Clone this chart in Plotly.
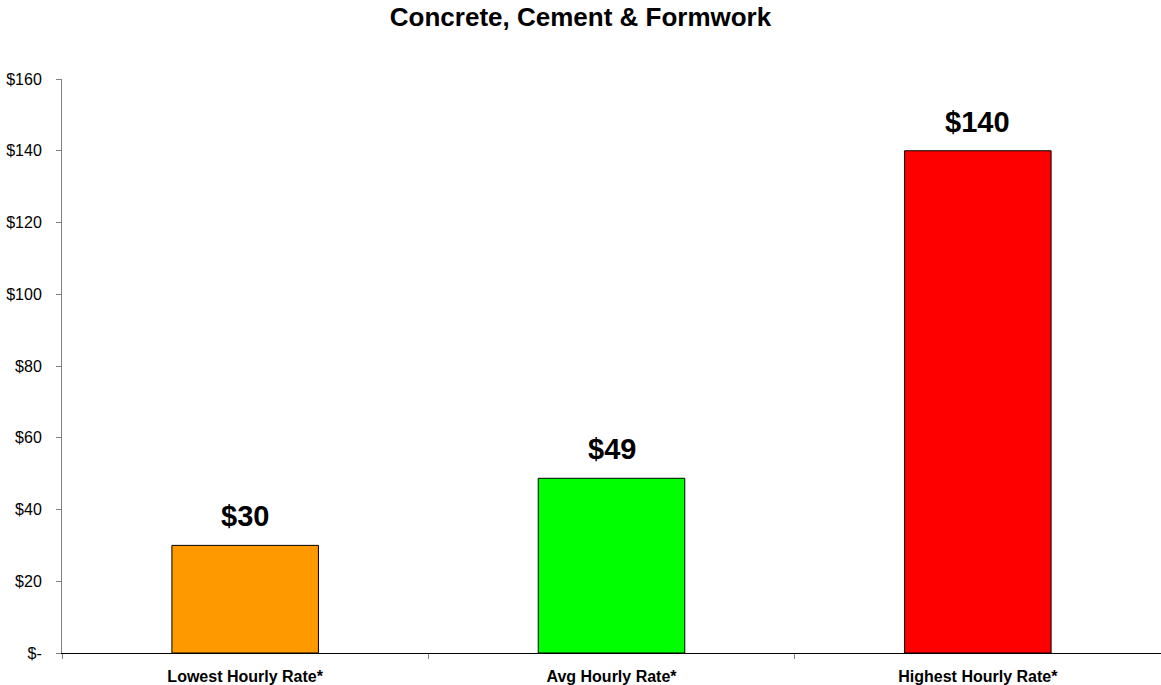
import plotly.graph_objects as go

categories = ["Lowest Hourly Rate*", "Avg Hourly Rate*", "Highest Hourly Rate*"]
values = [30, 48.7, 140]
value_labels = ["$30", "$49", "$140"]
bar_colors = ["#FF9900", "#00FF00", "#FF0000"]
y_tickvals = [0, 20, 40, 60, 80, 100, 120, 140, 160]
y_ticktext = ["$-", "$20", "$40", "$60", "$80", "$100", "$120", "$140", "$160"]

FONT = "Arial, Liberation Sans, sans-serif"

fig = go.Figure()
fig.add_trace(go.Bar(
    x=categories, y=values,
    marker=dict(color=bar_colors, line=dict(color="#000000", width=1)),
    width=0.4,
    hoverinfo="skip",
))

for c, v, t in zip(categories, values, value_labels):
    fig.add_annotation(x=c, y=v, text="<b>%s</b>" % t, showarrow=False,
                       yanchor="bottom", yshift=11,
                       font=dict(family=FONT, size=29, color="#000000"))

fig.update_layout(
    width=1161, height=685,
    paper_bgcolor="white", plot_bgcolor="white",
    margin=dict(l=62, r=0, t=79, b=32),
    showlegend=False,
    title=dict(text="<b>Concrete, Cement & Formwork</b>", x=0.5, xanchor="center",
               y=0.975, yanchor="middle",
               font=dict(family=FONT, size=26, color="#000000")),
    font=dict(family=FONT, color="#000000"),
    bargap=0.6,
)
fig.update_xaxes(
    showline=True, linecolor="#000000", linewidth=1,
    ticks="outside", tickson="boundaries", ticklen=5, tickcolor="#808080",
    tickfont=dict(family=FONT, size=16, color="#000000"),
    ticklabelstandoff=9,
    showgrid=False, zeroline=False,
    tickprefix="<b>", ticksuffix="</b>",
)
fig.update_yaxes(
    range=[0, 160], tickvals=y_tickvals, ticktext=y_ticktext,
    showline=True, linecolor="#808080", linewidth=1,
    ticks="outside", ticklen=5, tickcolor="#808080",
    tickfont=dict(family=FONT, size=16, color="#000000"),
    ticklabelstandoff=11,
    showgrid=False, zeroline=False,
)

fig.write_html("out.html", config={"displayModeBar": False},
               post_script="document.body.style.margin='0';document.body.style.overflow='hidden';")
